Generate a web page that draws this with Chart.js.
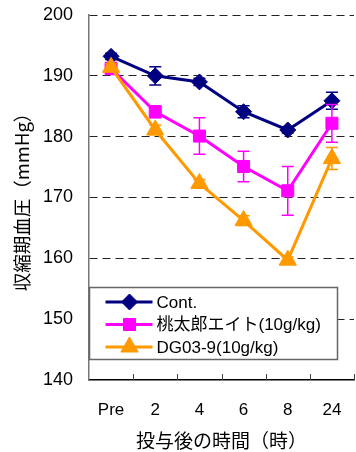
<!DOCTYPE html>
<html>
<head>
<meta charset="utf-8">
<script src="https://cdn.jsdelivr.net/npm/chart.js@4/dist/chart.umd.min.js"></script>
<style>
  html, body { margin: 0; padding: 0; background: #fff; overflow: hidden; }
  #wrap { width: 365px; height: 452px; position: relative; }
</style>
</head>
<body>
<div id="wrap"><canvas id="c"></canvas></div>
<script>
// Time points after dosing
const categories = ['Pre', '2', '4', '6', '8', '24'];
const seriesNames = ['Cont.', '桃太郎エイト(10g/kg)', 'DG03-9(10g/kg)'];

// Mean systolic blood pressure (mmHg)
const contValues = [193.2, 190.0, 189.0, 184.1, 181.1, 185.9];
const momotaroValues = [191.2, 184.1, 180.1, 175.1, 171.1, 182.2];
const dgValues = [191.4, 181.1, 172.3, 166.2, 159.7, 176.4];

// Error (±) for each mean
const contErrors = [0.5, 1.5, 0.6, 1.0, 0.5, 1.4];
const momotaroErrors = [1.0, 1.0, 3.0, 2.5, 4.0, 3.1];
const dgErrors = [0.6, 0.8, 0.6, 0.8, 0.5, 1.8];

// Y axis range and step
const yMin = 140, yMax = 200, yStep = 10;

const errorSets = [contErrors, momotaroErrors, dgErrors];
const colors = ['#000080', '#FF00FF', '#FF9900'];
const markers = ['rectRot', 'rect', 'triangle'];
const markerRadius = [8, 8.5, 10];

const FONT = "'Liberation Sans', 'Noto Sans CJK JP', sans-serif";
const CJK_FONT = "'Noto Sans CJK JP', sans-serif";
Chart.defaults.font.family = FONT;
Chart.defaults.color = '#000';

// Vertical error bars drawn just before each dataset's line and markers
const errorBarPlugin = {
  id: 'errorBars',
  beforeDatasetDraw(chart, args) {
    const errs = errorSets[args.index];
    const ds = chart.data.datasets[args.index];
    const ys = chart.scales.y;
    const ctx = chart.ctx;
    ctx.save();
    ctx.strokeStyle = ds.borderColor;
    ctx.lineWidth = 1.5;
    args.meta.data.forEach((pt, i) => {
      const v = ds.data[i], e = errs[i];
      const yt = ys.getPixelForValue(v + e);
      const yb = ys.getPixelForValue(v - e);
      const cap = 6;
      ctx.beginPath();
      ctx.moveTo(pt.x, yt); ctx.lineTo(pt.x, yb);
      ctx.moveTo(pt.x - cap, yt); ctx.lineTo(pt.x + cap, yt);
      ctx.moveTo(pt.x - cap, yb); ctx.lineTo(pt.x + cap, yb);
      ctx.stroke();
    });
    ctx.restore();
  }
};

// Inward tick marks between categories on the bottom axis
const xTickPlugin = {
  id: 'xTicks',
  afterDraw(chart) {
    const xs = chart.scales.x;
    const ctx = chart.ctx;
    const half = (xs.getPixelForValue(1) - xs.getPixelForValue(0)) / 2;
    const bottom = chart.chartArea.bottom;
    ctx.save();
    ctx.strokeStyle = '#444';
    ctx.lineWidth = 1;
    for (let i = 1; i <= categories.length; i++) {
      const x = Math.round(xs.getPixelForValue(i) - half) + 0.5;
      ctx.beginPath();
      ctx.moveTo(x, bottom);
      ctx.lineTo(x, bottom - 6);
      ctx.stroke();
    }
    ctx.restore();
  }
};

// Boxed legend with line + marker samples inside the plot area
const boxLegendPlugin = {
  id: 'boxLegend',
  afterDraw(chart) {
    const ctx = chart.ctx;
    const area = chart.chartArea;
    const left = area.left + 0.5;
    const top = area.top + 272.5;
    const w = 248, h = 72;
    ctx.save();
    ctx.fillStyle = '#fff';
    ctx.fillRect(left, top, w, h);
    ctx.strokeStyle = '#666';
    ctx.lineWidth = 1.5;
    ctx.strokeRect(left, top, w, h);
    ctx.font = "17px " + FONT;
    ctx.textBaseline = 'middle';
    ctx.textAlign = 'left';
    chart.data.datasets.forEach((ds, i) => {
      const y = top + 14.5 + i * 22.5;
      ctx.strokeStyle = ds.borderColor;
      ctx.lineWidth = 3;
      ctx.beginPath();
      ctx.moveTo(left + 16, y);
      ctx.lineTo(left + 63, y);
      ctx.stroke();
      ctx.fillStyle = ds.pointBackgroundColor;
      ctx.strokeStyle = ds.borderColor;
      ctx.lineWidth = 1;
      Chart.helpers.drawPoint(ctx, {
        pointStyle: ds.pointStyle, radius: ds.pointRadius, rotation: 0, borderWidth: 1
      }, left + 40, y);
      ctx.fillStyle = '#000';
      ctx.fillText(ds.label, left + 67, y + 1);
    });
    ctx.restore();
  }
};

const valueSets = [contValues, momotaroValues, dgValues];

const datasets = valueSets.map((vals, i) => ({
  label: seriesNames[i],
  data: vals,
  borderColor: colors[i],
  backgroundColor: colors[i],
  pointBackgroundColor: colors[i],
  pointBorderColor: colors[i],
  pointStyle: markers[i],
  pointRadius: markerRadius[i],
  pointHoverRadius: markerRadius[i],
  pointBorderWidth: 1,
  borderWidth: 3,
  tension: 0,
  order: 3 - i
}));

new Chart(document.getElementById('c'), {
  type: 'line',
  data: { labels: categories, datasets },
  options: {
    responsive: true,
    maintainAspectRatio: false,
    animation: false,
    devicePixelRatio: 1,
    layout: { padding: { top: 15, right: 4, left: 0, bottom: 0 } },
    plugins: {
      legend: { display: false },
      tooltip: { enabled: false }
    },
    scales: {
      x: {
        type: 'category',
        offset: true,
        grid: { display: false, drawTicks: false },
        border: { display: true, color: '#000', width: 1.5 },
        ticks: { font: { size: 17 }, padding: 20, color: '#000' },
        title: {
          display: true,
          text: '投与後の時間（時）',
          font: { size: 19, family: CJK_FONT },
          padding: { top: 0, bottom: 0 },
          color: '#000'
        },
        afterFit(scale) { scale.height = 72; }
      },
      y: {
        min: yMin,
        max: yMax,
        ticks: { stepSize: yStep, font: { size: 18 }, padding: 0, color: '#000' },
        grid: {
          drawTicks: true,
          tickLength: 16,
          tickColor: 'rgba(0,0,0,0)',
          color: (c) => (c.tick && c.tick.value === yMin) ? 'rgba(0,0,0,0)' : '#222',
          lineWidth: 1
        },
        border: { display: true, color: '#777', width: 1.5, dash: [8, 5] },
        title: {
          display: true,
          text: '収縮期血圧（mmHg）',
          font: { size: 18.5, family: CJK_FONT },
          padding: { top: 11, bottom: 0 },
          color: '#000'
        },
        afterFit(scale) { scale.width = 89; }
      }
    }
  },
  plugins: [errorBarPlugin, xTickPlugin, boxLegendPlugin]
});
</script>
</body>
</html>
